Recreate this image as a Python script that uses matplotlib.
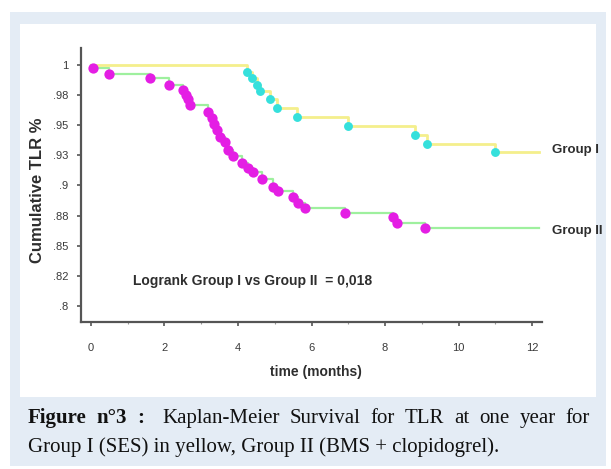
import matplotlib
matplotlib.use("Agg")
import matplotlib.pyplot as plt
from matplotlib.patches import Rectangle

# ---------------- data ----------------
g1_times = [0, 4.24, 4.37, 4.51, 4.60, 4.87, 5.05, 5.60, 7.00, 8.82, 9.15, 10.99]
g1_surv = [1.0, 0.9944, 0.989, 0.983, 0.978, 0.972, 0.964, 0.957, 0.949, 0.942, 0.934, 0.928]

g2_times = [0, 0.05, 0.50, 1.62, 2.12, 2.51, 2.59, 2.65, 2.69, 3.19, 3.29, 3.35, 3.42, 3.51,
            3.65, 3.74, 3.87, 4.10, 4.28, 4.42, 4.65, 4.96, 5.10, 5.50, 5.64, 5.82,
            6.91, 8.23, 8.32, 9.09]
g2_surv = [1.0, 0.9973, 0.9923, 0.989, 0.9834, 0.9793, 0.975, 0.972, 0.967, 0.9613, 0.9558,
           0.951, 0.946, 0.9405, 0.9364, 0.9295, 0.9245, 0.9185, 0.9143, 0.9108, 0.905,
           0.8991, 0.895, 0.8908, 0.8853, 0.8812, 0.8775, 0.8742, 0.8686, 0.8645]
end_time = 12.2

ytick_vals = [1, 0.975, 0.95, 0.925, 0.9, 0.875, 0.85, 0.825, 0.8]
ytick_labels = ['1', '.98', '.95', '.93', '.9', '.88', '.85', '.82', '.8']
xtick_vals = [0, 2, 4, 6, 8, 10, 12]
xtick_labels = ['0', '2', '4', '6', '8', '10', '12']

W, H = 611, 469
fig = plt.figure(figsize=(W / 100, H / 100), dpi=100)
fig.patch.set_facecolor('white')

def fx(x):
    return x / W

def fy(y):
    return 1 - y / H

SANS = ['Liberation Sans', 'DejaVu Sans']
NARROW = ['Liberation Sans Narrow', 'Liberation Sans', 'DejaVu Sans']
SERIF = ['Liberation Serif', 'DejaVu Serif']
TXT = '#2e2e2e'

# background panels
fig.patches.append(Rectangle((fx(10), fy(466)), fx(606) - fx(10), fy(12) - fy(466),
                             transform=fig.transFigure, facecolor='#e4ecf5', edgecolor='none', zorder=-20))
fig.patches.append(Rectangle((fx(20), fy(397)), fx(596) - fx(20), fy(24) - fy(397),
                             transform=fig.transFigure, facecolor='white', edgecolor='none', zorder=-10))

ax = fig.add_axes([fx(81), fy(322), fx(542) - fx(81), fy(48) - fy(322)])
ax.set_zorder(5)
ax.set_facecolor('none')
ax.set_xlim(-0.27, 12.27)
ax.set_ylim(0.7867, 1.014)
for s in ['top', 'right']:
    ax.spines[s].set_visible(False)
for s in ['left', 'bottom']:
    ax.spines[s].set_color('#555555')
    ax.spines[s].set_linewidth(1.6)

ax.set_yticks(ytick_vals)
ax.set_yticklabels(ytick_labels)
ax.set_xticks(xtick_vals)
ax.set_xticklabels(xtick_labels)
ax.set_xticks(range(0, 13), minor=True)
ax.tick_params(axis='both', which='major', length=3, width=1.2, color='#555555',
               labelsize=8, labelcolor='#3a3a3a')
ax.tick_params(axis='x', which='major', pad=12)
ax.tick_params(axis='y', which='major', pad=6)
ax.tick_params(axis='x', which='minor', length=1.5, width=0.8, color='#999999')
for lab in ax.get_xticklabels() + ax.get_yticklabels():
    lab.set_fontfamily(NARROW)

fig.text(fx(38), fy(190), 'Cumulative TLR %', fontsize=12, fontweight='bold', family=SANS,
         color=TXT, rotation=90, ha='center', va='center')
fig.text(fx(316), fy(372), 'time (months)', fontsize=10, fontweight='bold', family=SANS,
         color=TXT, ha='center', va='center')

# Group I
ax.step(g1_times + [end_time], g1_surv + [g1_surv[-1]], where='post',
        color='#f4ef8c', lw=2, zorder=2, clip_on=False)
ax.plot(g1_times[1:], g1_surv[1:], 'o', color='#35e0dc', ms=6.4, mec='none', zorder=3)
# Group II
ax.step(g2_times + [end_time], g2_surv + [g2_surv[-1]], where='post',
        color='#9ef09e', lw=1.6, zorder=1, clip_on=False)
ax.plot(g2_times[1:], g2_surv[1:], 'o', color='#e41ee4', ms=7.4, mec='none', zorder=3)

fig.text(fx(133), fy(281), 'Logrank Group I vs Group II  = 0,018',
         fontsize=10, fontweight='bold', family=SANS, color=TXT, va='center', ha='left')

fig.text(fx(552), fy(150), 'Group I', fontsize=9.5, fontweight='bold', family=SANS,
         color=TXT, va='center', ha='left')
fig.text(fx(552), fy(231), 'Group II', fontsize=9.5, fontweight='bold', family=SANS,
         color=TXT, va='center', ha='left')

# caption (justified first line)
cap_fs = 15
bold_words = ['Figure', 'n°3', ':']
reg_words = ['Kaplan-Meier', 'Survival', 'for', 'TLR', 'at', 'one', 'year', 'for']
y1 = fy(423)
texts = []
for w in bold_words:
    texts.append(fig.text(0, y1, w, fontsize=cap_fs, fontweight='bold', family=SERIF,
                          color='#111111', va='baseline', ha='left'))
for w in reg_words:
    texts.append(fig.text(0, y1, w, fontsize=cap_fs, family=SERIF,
                          color='#111111', va='baseline', ha='left'))
fig.canvas.draw()
r = fig.canvas.get_renderer()
widths = [t.get_window_extent(r).width for t in texts]
x0, x1 = 28, 590
extra_after_colon = 8
gap = (x1 - x0 - sum(widths) - extra_after_colon) / (len(texts) - 1)
x = x0
for i, (t, w) in enumerate(zip(texts, widths)):
    t.set_x(fx(x))
    x += w + gap + (extra_after_colon if i == 2 else 0)
fig.text(fx(28), fy(452), 'Group I (SES) in yellow, Group II (BMS + clopidogrel).',
         fontsize=cap_fs, family=SERIF, color='#111111', va='baseline', ha='left')

fig.savefig('out.png', dpi=100)
